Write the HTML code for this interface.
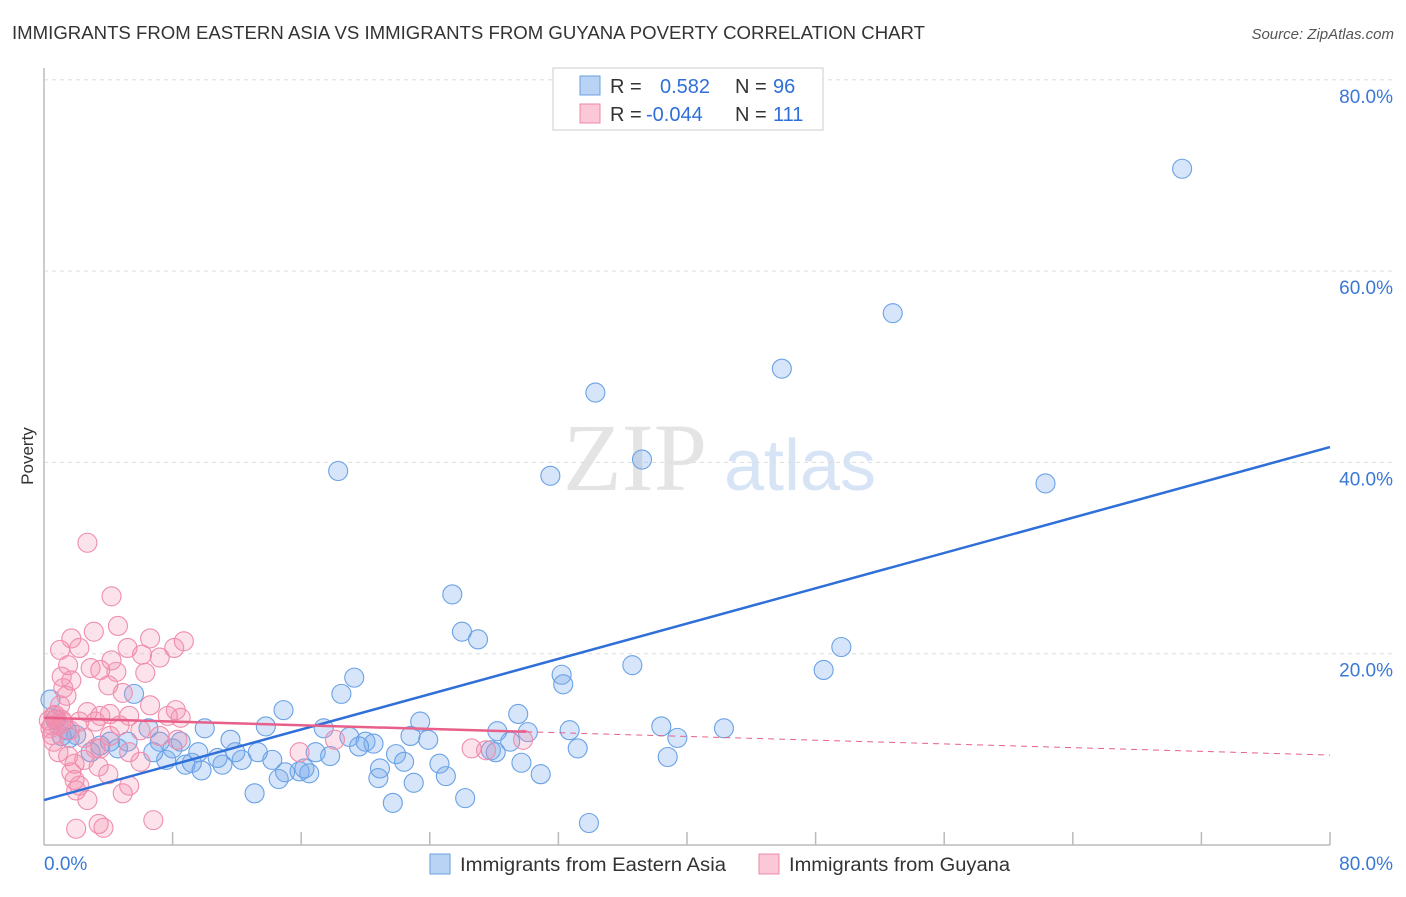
<!DOCTYPE html>
<html><head><meta charset="utf-8"><style>
body{margin:0;background:#fff;font-family:"Liberation Sans",sans-serif}
</style></head><body>
<svg width="1406" height="892" xmlns="http://www.w3.org/2000/svg" font-family="Liberation Sans, sans-serif">
<text x="12" y="39" font-size="18" fill="#333" textLength="913" lengthAdjust="spacingAndGlyphs">IMMIGRANTS FROM EASTERN ASIA VS IMMIGRANTS FROM GUYANA POVERTY CORRELATION CHART</text>
<text x="1394" y="39" font-size="15" fill="#555" text-anchor="end" font-style="italic">Source: ZipAtlas.com</text>
<text x="33" y="456" font-size="17" fill="#333" transform="rotate(-90 33 456)" text-anchor="middle">Poverty</text>
<text x="635" y="490" font-size="96" fill="#e4e4e4" text-anchor="middle" font-family="Liberation Serif, serif">ZIP</text>
<text x="800" y="490" font-size="72" fill="#d6e4f5" text-anchor="middle">atlas</text>
<g id="grid"></g><g id="axes"></g><g id="pts"></g><g id="lines"></g>
<g>
<rect x="553" y="68" width="270" height="62" fill="#fff" stroke="#ccc"/>
<rect x="580" y="76" width="20" height="19" fill="#b9d3f5" stroke="#6a9fe0"/>
<text x="610" y="93" font-size="20" fill="#333">R =</text><text x="660" y="93" font-size="20" fill="#2f6fd8">0.582</text>
<text x="735" y="93" font-size="20" fill="#333">N =</text><text x="773" y="93" font-size="20" fill="#2f6fd8">96</text>
<rect x="580" y="104" width="20" height="19" fill="#fbc8d8" stroke="#ee88a8"/>
<text x="610" y="121" font-size="20" fill="#333">R =</text><text x="646" y="121" font-size="20" fill="#2f6fd8">-0.044</text>
<text x="735" y="121" font-size="20" fill="#333">N =</text><text x="773" y="121" font-size="20" fill="#2f6fd8">111</text>
</g>
<g>
<rect x="430" y="854" width="20" height="20" fill="#b9d3f5" stroke="#6a9fe0"/>
<text x="460" y="871" font-size="19" fill="#333" textLength="266" lengthAdjust="spacingAndGlyphs">Immigrants from Eastern Asia</text>
<rect x="759" y="854" width="20" height="20" fill="#fbc8d8" stroke="#ee88a8"/>
<text x="789" y="871" font-size="19" fill="#333" textLength="221" lengthAdjust="spacingAndGlyphs">Immigrants from Guyana</text>
</g>
</svg>
<script>
const yTicks=[20,40,60,80];
const yTickLabels=["20.0%","40.0%","60.0%","80.0%"];
const blueX=[70.8,52.8,45.9,34.3,37.2,31.5,18.3,62.3,25.4,26.0,27.0,49.6,48.5,36.6,32.2,32.3,19.3,18.5,5.6,14.9,29.5,23.4,13.8,17.4,10.0,6.5,38.4,42.3,32.7,28.2,30.1,22.8,23.9,39.4,19.0,20.0,20.5,19.6,29.0,33.2,27.8,28.1,16.9,17.8,21.9,22.4,24.6,29.7,38.8,30.9,25.0,20.9,20.8,23.0,21.7,26.2,33.9,13.1,14.6,15.0,15.9,16.5,16.2,14.2,13.3,12.3,11.9,11.6,11.1,10.8,9.8,9.6,8.8,9.2,7.6,8.0,8.5,7.2,6.8,5.2,4.6,4.1,3.5,2.9,2.0,1.6,1.1,0.4,0.7,1.4];
const blueY=[70.7,55.6,49.8,47.3,40.3,38.6,39.1,37.8,26.2,22.3,21.5,20.7,18.3,18.8,17.8,16.8,17.5,15.8,15.8,14.1,13.7,12.9,12.4,12.2,12.2,12.2,12.4,12.2,12.0,11.9,11.8,11.4,11.0,11.2,11.3,10.8,10.6,10.3,10.8,10.1,9.9,9.7,9.7,9.3,9.5,8.7,8.5,8.6,9.2,7.4,7.2,8.0,7.0,6.5,4.4,4.9,2.3,5.4,6.9,7.6,7.7,7.5,8.0,8.9,9.7,8.9,9.7,11.0,8.4,9.1,7.8,9.7,8.4,8.6,8.9,10.1,10.8,10.8,9.7,10.8,10.1,10.8,10.4,9.7,11.5,11.2,11.4,15.2,13.1,12.0];
const pinkX=[2.7,4.2,4.6,3.1,1.7,6.6,8.7,2.2,1.0,5.2,8.1,6.1,7.2,4.2,1.5,2.9,3.5,4.5,6.3,1.1,1.7,4.0,1.2,4.9,1.4,6.6,8.2,2.7,4.1,3.5,5.3,8.5,7.7,0.6,1.1,2.2,3.2,4.7,0.9,1.6,6.0,7.2,4.1,2.5,0.6,8.3,3.5,5.3,0.9,1.5,2.5,1.9,6.0,3.4,1.7,4.0,1.9,2.2,5.3,2.7,2.0,4.9,6.8,3.4,3.7,2.0,15.9,18.1,26.6,27.5,29.8,1.0,3.2,0.5,0.3,0.5,0.8,1.2,0.4,0.7];
const pinkY=[31.6,26.0,22.9,22.3,21.6,21.6,21.3,20.6,20.4,20.6,20.6,19.9,19.6,19.3,18.8,18.5,18.3,18.1,18.0,17.6,17.2,16.7,16.4,15.9,15.6,14.6,14.1,13.9,13.7,13.5,13.5,13.3,13.5,13.5,13.1,12.9,12.9,12.5,12.5,12.0,12.0,11.4,11.4,11.2,10.8,11.0,10.1,9.7,9.7,9.3,8.9,8.5,8.7,8.2,7.6,7.4,6.8,6.2,6.2,4.7,5.7,5.4,2.6,2.2,1.8,1.7,9.7,11.0,10.1,9.9,11.0,14.6,10.1,11.5,13.0,12.5,13.2,12.8,12.2,13.6];
const blueTrend=[4.7,41.6];
const pinkTrend=[13.3,9.4];
const NS="http://www.w3.org/2000/svg";
const X=v=>44+v/80*1286, Y=v=>845-v/20*191.3;
function mk(t,a,p){const e=document.createElementNS(NS,t);for(const k in a)e.setAttribute(k,a[k]);document.getElementById(p).appendChild(e);return e;}
yTicks.forEach((t,i)=>{
 const l=mk('line',{x1:44,x2:1394,y1:Y(t),y2:Y(t),stroke:'#ddd','stroke-dasharray':'4,4'},'grid');
 
 
 const tx=mk('text',{x:1393,y:Y(t)+23,'text-anchor':'end','font-size':19,fill:'#3a78d6'},'grid');
 tx.textContent=yTickLabels[i];
 
 
});
mk('line',{x1:44,x2:44,y1:68,y2:845,stroke:'#bbb','stroke-width':1.5},'axes');
mk('line',{x1:44,x2:1330,y1:845,y2:845,stroke:'#bbb','stroke-width':1.5},'axes');
for(let i=1;i<=10;i++){const tk=mk('line',{x1:X(i*8),x2:X(i*8),y1:832,y2:845,stroke:'#bbb','stroke-width':1.5},'axes');
 
 }
const a=mk('text',{x:44,y:870,'font-size':19,fill:'#3a78d6'},'axes');a.textContent='0.0%';


const b=mk('text',{x:1393,y:870,'font-size':19,fill:'#3a78d6','text-anchor':'end'},'axes');b.textContent='80.0%';


blueX.forEach((v,i)=>{const c=mk('circle',{cx:X(v),cy:Y(blueY[i]),r:9.5,fill:'rgba(120,170,235,0.3)',stroke:'#6aa2e6','stroke-width':1.1},'pts');
 
 });
pinkX.forEach((v,i)=>{const c=mk('circle',{cx:X(v),cy:Y(pinkY[i]),r:9.5,fill:'rgba(245,140,170,0.25)',stroke:'#ef8eae','stroke-width':1.1},'pts');
 
 });
const bl=mk('line',{x1:X(0),y1:Y(blueTrend[0]),x2:X(80),y2:Y(blueTrend[1]),stroke:'#2f6fd8','stroke-width':2.5},'lines');


const pm=pinkTrend[0]+(pinkTrend[1]-pinkTrend[0])*30/80;
const pl=mk('line',{x1:X(0),y1:Y(pinkTrend[0]),x2:X(30),y2:Y(pm),stroke:'#e8608a','stroke-width':2.5},'lines');


const pd=mk('line',{x1:X(30),y1:Y(pm),x2:X(80),y2:Y(pinkTrend[1]),stroke:'#e8608a','stroke-width':1,'stroke-dasharray':'6,5'},'lines');


</script>
</body></html>
